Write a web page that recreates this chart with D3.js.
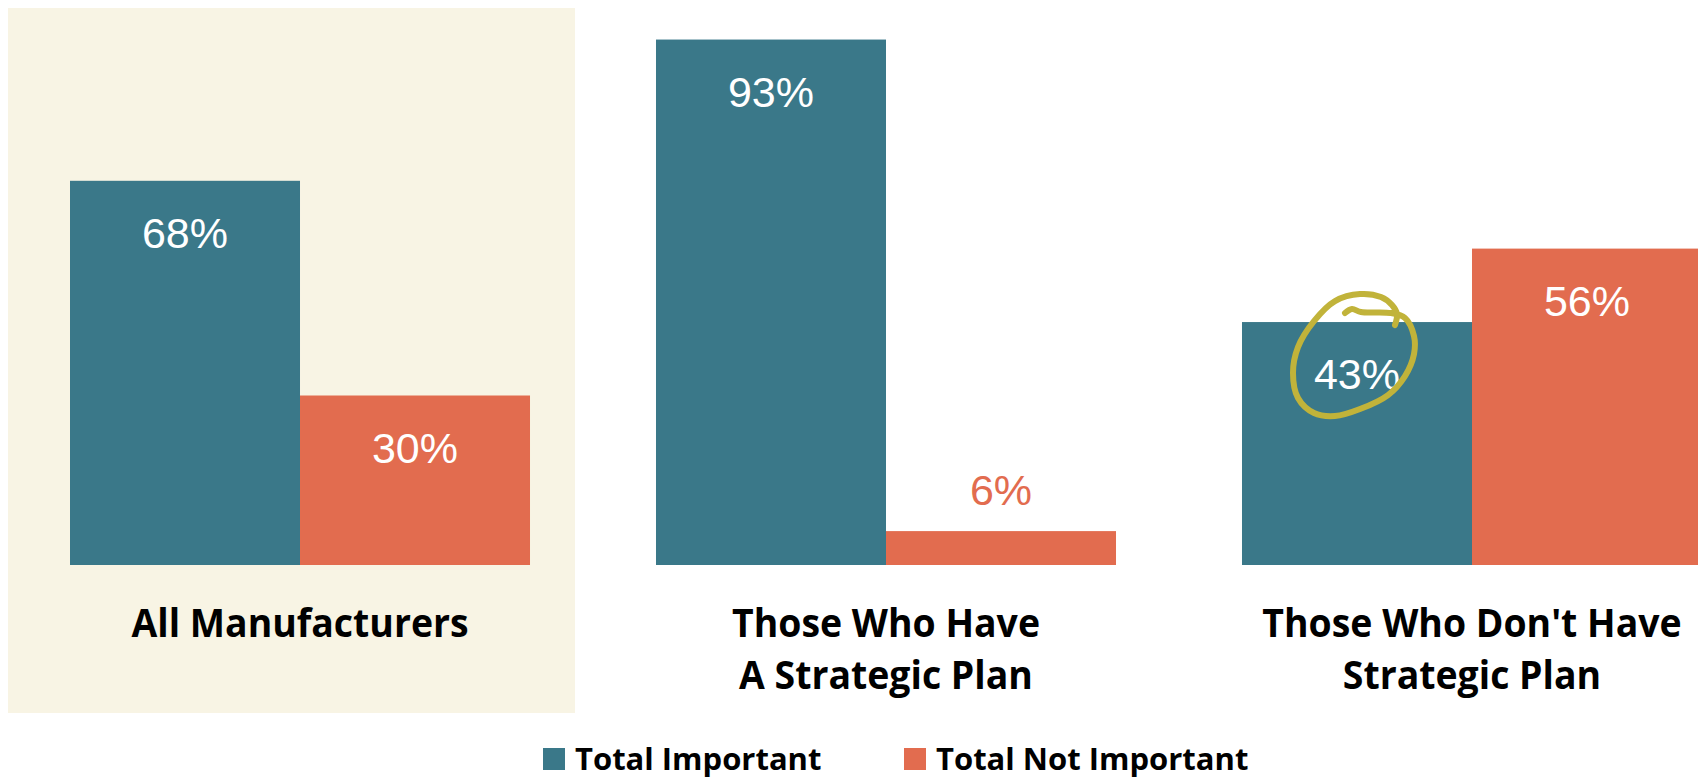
<!DOCTYPE html>
<html>
<head>
<meta charset="utf-8">
<script src="https://cdn.jsdelivr.net/npm/d3@7"></script>
<style>
  html, body { margin: 0; padding: 0; background: #ffffff; }
  svg { display: block; }
</style>
</head>
<body>
<svg id="chart" width="1698" height="778"></svg>
<script>
// ---- data ----
const categories = ["All Manufacturers", "Those Who Have A Strategic Plan", "Those Who Don't Have Strategic Plan"];
const categoryLines = [["All Manufacturers"], ["Those Who Have", "A Strategic Plan"], ["Those Who Don't Have", "Strategic Plan"]];
const seriesNames = ["Total Important", "Total Not Important"];
const importantValues = [68, 93, 43];
const notImportantValues = [30, 6, 56];
const highlightedCategory = "All Manufacturers";
const circledLabel = { category: "Those Who Don't Have Strategic Plan", series: "Total Important" };

// ---- styles ----
const colors = { "Total Important": "#3a7889", "Total Not Important": "#e26c4f" };
const panelColor = "#f8f4e4";
const circleColor = "#c1b33a";

const svg = d3.select("#chart");

const x0 = d3.scaleBand().domain(categories).range([70, 1702]).paddingInner(0.215).paddingOuter(0);
const x1 = d3.scaleBand().domain(seriesNames).range([0, x0.bandwidth()]).padding(0);
const y = d3.scaleLinear().domain([0, 100]).range([565, 0]);

const rows = categories.map((c, i) => ({
  category: c,
  lines: categoryLines[i],
  values: [
    { series: seriesNames[0], value: importantValues[i] },
    { series: seriesNames[1], value: notImportantValues[i] }
  ]
}));

// highlight panel
svg.append("rect")
  .attr("x", x0(highlightedCategory) - 62)
  .attr("y", 8)
  .attr("width", x0.bandwidth() + 107)
  .attr("height", 705)
  .attr("fill", panelColor);

const groups = svg.selectAll("g.group").data(rows).join("g")
  .attr("class", "group")
  .attr("transform", d => `translate(${x0(d.category)},0)`);

groups.selectAll("rect.bar").data(d => d.values).join("rect")
  .attr("class", "bar")
  .attr("x", d => x1(d.series))
  .attr("y", d => y(d.value))
  .attr("width", x1.bandwidth())
  .attr("height", d => y(0) - y(d.value))
  .attr("fill", d => colors[d.series]);

// value labels
groups.selectAll("text.val").data(d => d.values).join("text")
  .attr("class", "val")
  .attr("x", d => x1(d.series) + x1.bandwidth() / 2)
  .attr("y", d => (y(0) - y(d.value) > 90) ? y(d.value) + 67 : y(d.value) - 26)
  .attr("text-anchor", "middle")
  .attr("font-family", "'Liberation Sans', Arial, sans-serif")
  .attr("font-size", 43)
  .attr("fill", d => (y(0) - y(d.value) > 90) ? "#ffffff" : colors[d.series])
  .text(d => d.value + "%");

// category labels (slightly condensed horizontally)
groups.each(function(d) {
  const g = d3.select(this);
  d.lines.forEach((ln, j) => {
    g.append("text")
      .attr("transform", `translate(${x0.bandwidth() / 2},${637 + j * 52}) scale(0.935,1)`)
      .attr("text-anchor", "middle")
      .attr("font-family", "'Open Sans', sans-serif")
      .attr("font-weight", 700)
      .attr("font-size", 40)
      .attr("fill", "#000")
      .text(ln);
  });
});

// hand-drawn circle annotation around a label
const cx = x0(circledLabel.category) + x1(circledLabel.series) + x1.bandwidth() / 2;
const vIdx = categories.indexOf(circledLabel.category);
const cy = y(importantValues[vIdx]) + 67 - 15;
const circleOffsets = [
  [-12, -61], [-5, -65], [4, -62], [34, -61], [48, -56], [57, -38], [57, -20], [48, 2],
  [31, 21], [3, 35], [-22, 42], [-43, 39], [-59, 24], [-64, -1], [-59, -27],
  [-43, -53], [-22, -73], [3, -80], [24, -77], [35, -69], [40, -60], [38, -49]
];
svg.append("path")
  .attr("d", d3.line().curve(d3.curveCatmullRom.alpha(0.5))(circleOffsets.map(p => [cx + p[0], cy + p[1]])))
  .attr("fill", "none")
  .attr("stroke", circleColor)
  .attr("stroke-width", 6)
  .attr("stroke-linecap", "round")
  .attr("stroke-linejoin", "round");

// legend
const legendX = d3.scaleOrdinal().domain(seriesNames).range([543, 904]);
const lg = svg.selectAll("g.legend").data(seriesNames).join("g")
  .attr("class", "legend")
  .attr("transform", d => `translate(${legendX(d)},748)`);
lg.append("rect").attr("width", 22).attr("height", 22).attr("fill", d => colors[d]);
lg.append("text")
  .attr("x", 32).attr("y", 22)
  .attr("font-family", "'Open Sans', sans-serif")
  .attr("font-weight", 700)
  .attr("font-size", 31)
  .attr("fill", "#000")
  .text(d => d);
</script>
</body>
</html>
